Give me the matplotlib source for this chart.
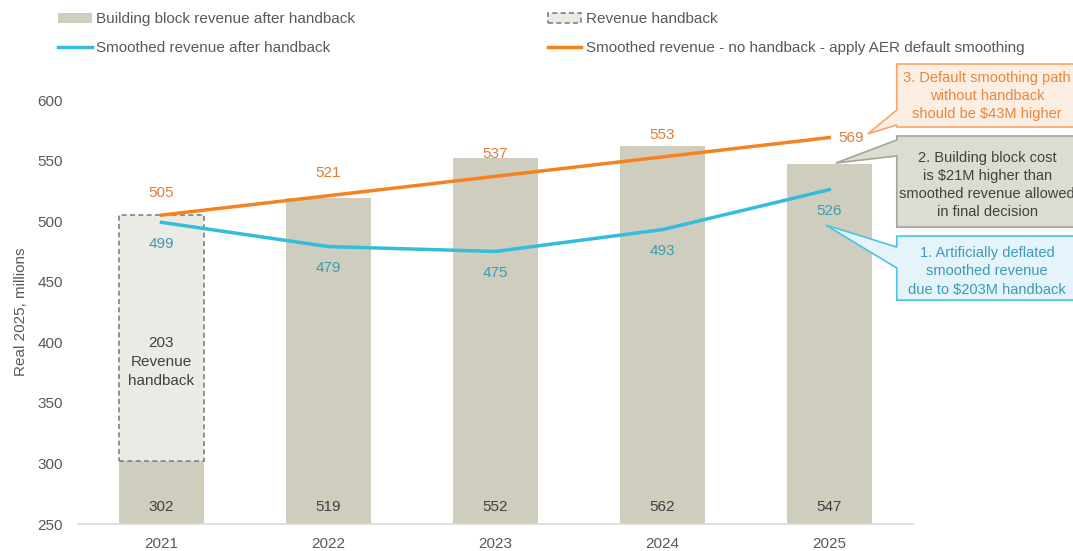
import numpy as np
import matplotlib
matplotlib.use("Agg")
import matplotlib.pyplot as plt
from matplotlib.patches import Polygon

plt.rcParams['font.family'] = ['Liberation Sans', 'DejaVu Sans']

years = ['2021', '2022', '2023', '2024', '2025']
building_block = [302, 519, 552, 562, 547]
handback = [203, 0, 0, 0, 0]
smoothed_after = [499, 479, 475, 493, 526]
smoothed_default = [505, 521, 537, 553, 569]

grey = '#595959'
bar_col = '#CFCEBE'
blue = '#33BDDB'
blue_txt = '#3B9CB4'
orange = '#F58220'
orange_txt = '#E07B39'
fs = 11

fig = plt.figure(figsize=(10.73, 5.51), dpi=100)
ax = fig.add_axes([0.0727, 0.049, 0.778, 0.7695])
x = np.arange(len(years))

b1 = ax.bar(x, building_block, width=0.51, color=bar_col, zorder=2,
            label='Building block revenue after handback')
hb = np.array(handback)
b2 = ax.bar(x[hb > 0], hb[hb > 0], bottom=np.array(building_block)[hb > 0], width=0.51,
            color='#EBEBE6', edgecolor='#808080', linestyle=(0, (3, 2)), linewidth=1.2,
            zorder=2, label='Revenue handback')
l1, = ax.plot(x, smoothed_after, color=blue, lw=2.5, zorder=3,
              label='Smoothed revenue after handback')
l2, = ax.plot(x, smoothed_default, color=orange, lw=2.5, zorder=3,
              label='Smoothed revenue - no handback - apply AER default smoothing')

ax.set_xlim(-0.5, 4.5)
ax.set_ylim(250, 600)
ax.set_yticks(range(250, 601, 50))
ax.set_xticks(x)
ax.set_xticklabels(years)
for s in ['top', 'right', 'left']:
    ax.spines[s].set_visible(False)
ax.spines['bottom'].set_color('#D9D9D9')
ax.spines['bottom'].set_linewidth(1.2)
ax.tick_params(axis='both', length=0, colors=grey, labelsize=fs)
ax.tick_params(axis='x', pad=9)
ax.tick_params(axis='y', pad=11)
ax.set_ylabel('Real 2025, millions', color=grey, fontsize=fs, labelpad=7)

# value labels
for i, v in enumerate(building_block):
    ax.annotate(str(v), (i, 250), xytext=(0, 12), textcoords='offset points',
                ha='center', va='center', color='#404040', fontsize=fs)
for i, v in enumerate(smoothed_after):
    ax.annotate(str(v), (i, v), xytext=(0, -15.5), textcoords='offset points',
                ha='center', va='center', color=blue_txt, fontsize=fs)
for i, v in enumerate(smoothed_default):
    if i == len(smoothed_default) - 1:
        ax.annotate(str(v), (i, v), xytext=(16, 0), textcoords='offset points',
                    ha='center', va='center', color=orange_txt, fontsize=fs)
    else:
        ax.annotate(str(v), (i, v), xytext=(0, 16), textcoords='offset points',
                    ha='center', va='center', color=orange_txt, fontsize=fs)
mid = building_block[0] + handback[0] / 2
ax.annotate(f'{handback[0]}\nRevenue\nhandback', (0, mid), xytext=(0, -17),
            textcoords='offset points', ha='center', va='center', color='#404040',
            fontsize=fs, linespacing=1.45)


def callout(x0, x1, ytop, ybot, base_hi, base_lo, tip, fc, ec, text, tc, ty):
    pts = [(x0, ytop), (x1, ytop), (x1, ybot), (x0, ybot), (x0, base_lo), tip,
           (x0, base_hi)]
    ax.add_patch(Polygon(pts, closed=True, facecolor=fc, edgecolor=ec, lw=1.2,
                         clip_on=False, zorder=4))
    ax.text(4.945, ty, text, ha='center', va='center', color=tc, fontsize=10.5,
            linespacing=1.38, zorder=5, clip_on=False)


callout(4.404, 5.6, 629.7, 577.7, 591.7, 579.4, (4.23, 572), '#FDEEE3', '#F7A66B',
        '3. Default smoothing path\nwithout handback\nshould be $43M higher', '#E8873D', 603.5)
callout(4.404, 5.6, 570.3, 495.1, 567.0, 553.8, (4.039, 548), '#DDDCD2', '#A5A497',
        '2. Building block cost\nis $21M higher than\nsmoothed revenue allowed\nin final decision',
        '#404040', 530)
callout(4.404, 5.6, 487.7, 434.8, 478.6, 461.3, (3.979, 496.8), '#E4F4FA', '#4CC3E0',
        '1. Artificially deflated\nsmoothed revenue\ndue to $203M handback', blue_txt, 458.5)

fig.legend([b1, l1, b2, l2], [b1.get_label(), l1.get_label(), b2.get_label(), l2.get_label()],
           loc='upper left', bbox_to_anchor=(0.054, 0.978), ncol=2, frameon=False,
           fontsize=fs, labelcolor=grey, handlelength=2.2, handleheight=0.6,
           handletextpad=0.3, columnspacing=12.6, labelspacing=0.97, borderpad=0,
           borderaxespad=0)

fig.savefig('out.png', dpi=100)
